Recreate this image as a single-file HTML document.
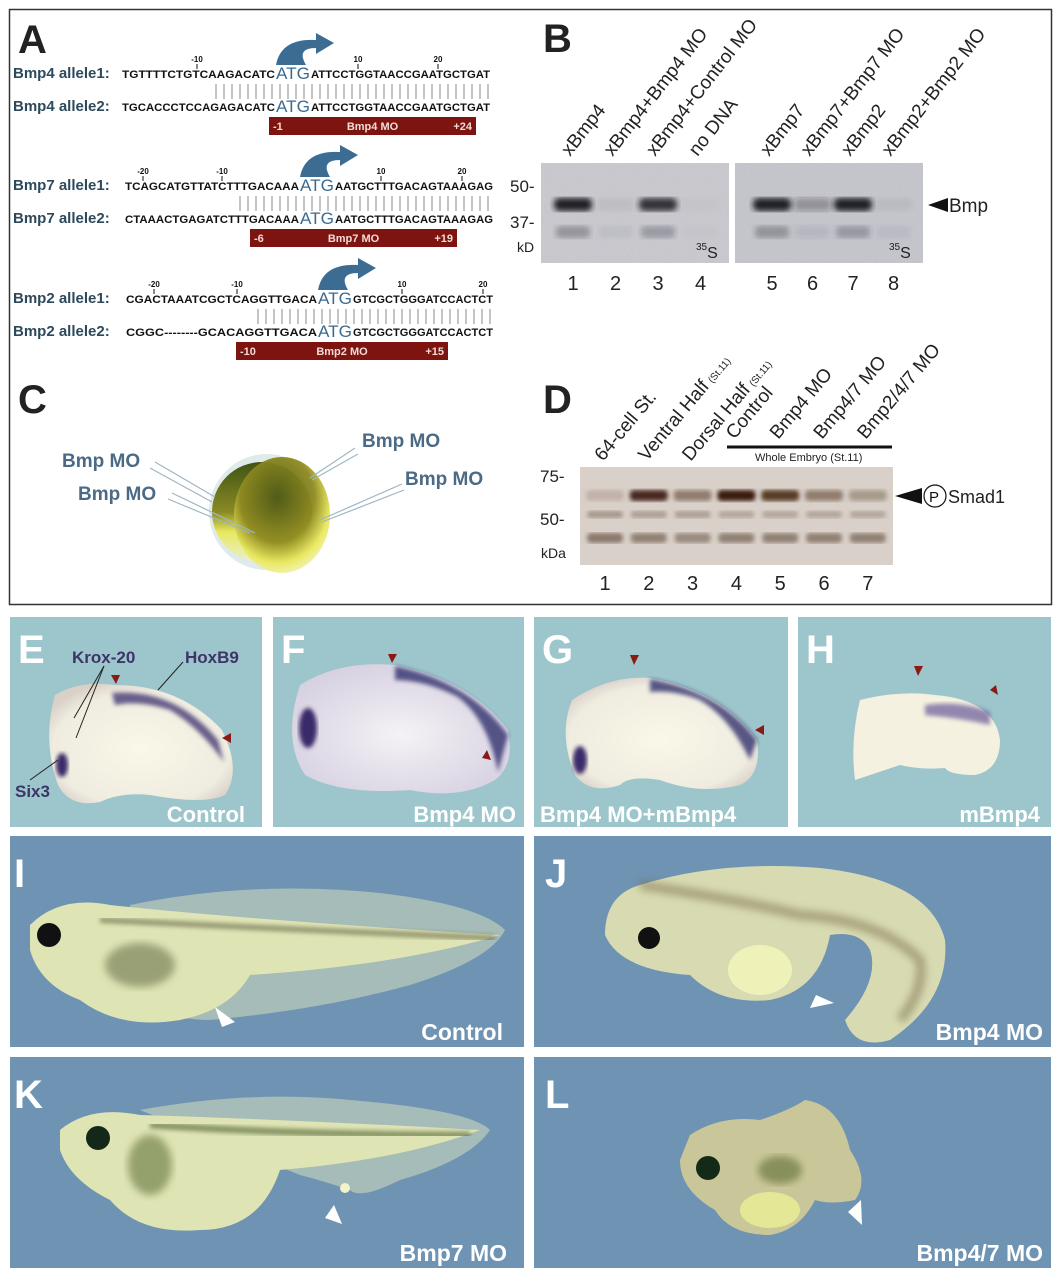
<!DOCTYPE html>
<html><head><meta charset="utf-8"><style>
html,body{margin:0;padding:0;background:#fff;width:1061px;height:1280px;overflow:hidden}
svg{display:block}
text{font-family:"Liberation Sans",sans-serif}
</style></head><body>
<svg id="fig" width="1061" height="1280" viewBox="0 0 1061 1280">
<defs>
<filter id="blur2"><feGaussianBlur stdDeviation="2"/></filter>
<filter id="blur3"><feGaussianBlur stdDeviation="3"/></filter>
<filter id="blur4"><feGaussianBlur stdDeviation="4"/></filter>
<filter id="grain" x="0" y="0" width="1" height="1" filterUnits="objectBoundingBox"><feTurbulence type="fractalNoise" baseFrequency="0.9" numOctaves="2" seed="3"/><feColorMatrix type="matrix" values="0 0 0 0 0.3  0 0 0 0 0.3  0 0 0 0 0.35  0 0 0 0.5 0"/></filter>
<radialGradient id="egg" cx="0.45" cy="0.35" r="0.7"><stop offset="0" stop-color="#4e5a18"/><stop offset="0.55" stop-color="#8f8a20"/><stop offset="0.8" stop-color="#e9e85a"/><stop offset="1" stop-color="#f4f4c8"/></radialGradient>
<linearGradient id="egg2" x1="0" y1="0" x2="0" y2="1"><stop offset="0" stop-color="#3f5414"/><stop offset="0.5" stop-color="#8a8a24"/><stop offset="0.7" stop-color="#e8e860"/><stop offset="1" stop-color="#e9efcf"/></linearGradient>
<radialGradient id="embE" cx="0.5" cy="0.55" r="0.6"><stop offset="0" stop-color="#faf8e8"/><stop offset="0.8" stop-color="#efece0"/><stop offset="1" stop-color="#d9d0c8"/></radialGradient>
<radialGradient id="embF" cx="0.5" cy="0.55" r="0.6"><stop offset="0" stop-color="#f4f2f6"/><stop offset="1" stop-color="#d6d0e0"/></radialGradient>
</defs>

<rect x="9.5" y="9.5" width="1042" height="595" fill="#fff" stroke="#333" stroke-width="1.5"/>

<g>
<text x="18" y="53" font-size="40" font-weight="bold" fill="#222">A</text>
<g id="seqA"></g>
</g>

<g>
<text x="543" y="52" font-size="40" font-weight="bold" fill="#222">B</text>
<rect x="541" y="163" width="188" height="100" fill="#cfcfd4"/>
<rect x="735" y="163" width="188" height="100" fill="#cbcbd2"/>
<rect x="541" y="163" width="188" height="100" filter="url(#grain)" opacity="0.5"/>
<rect x="735" y="163" width="188" height="100" filter="url(#grain)" opacity="0.5"/>
<g id="bBands"></g>
<g id="bLabels"></g>
<text x="510" y="192" font-size="17" fill="#222">50-</text>
<text x="510" y="228" font-size="17" fill="#222">37-</text>
<text x="517" y="252" font-size="14" fill="#222">kD</text>
<text x="696" y="258" font-size="16" fill="#222"><tspan font-size="10" dy="-8">35</tspan><tspan dy="8">S</tspan></text>
<text x="889" y="258" font-size="16" fill="#222"><tspan font-size="10" dy="-8">35</tspan><tspan dy="8">S</tspan></text>
<polygon points="928,205 948,198 948,212" fill="#111"/>
<text x="949" y="212" font-size="19" fill="#222">Bmp</text>
</g>

<g>
<text x="18" y="413" font-size="40" font-weight="bold" fill="#222">C</text>
<circle cx="267" cy="512" r="58" fill="#dfeaea"/>
<circle cx="262" cy="512" r="50" fill="url(#egg2)"/>
<ellipse cx="282" cy="515" rx="48" ry="58" fill="url(#egg)" opacity="0.95"/>
<g stroke="#9fb6c4" stroke-width="1.2" fill="none">
<line x1="155" y1="462" x2="215" y2="497"/><line x1="150" y1="468" x2="212" y2="502"/>
<line x1="172" y1="493" x2="255" y2="533"/><line x1="168" y1="499" x2="250" y2="533"/>
<line x1="355" y1="448" x2="310" y2="478"/><line x1="358" y1="454" x2="312" y2="480"/>
<line x1="402" y1="484" x2="320" y2="520"/><line x1="404" y1="490" x2="322" y2="522"/>
</g>
<text x="62" y="467" font-size="19" font-weight="bold" fill="#4b6a86">Bmp MO</text>
<text x="78" y="500" font-size="19" font-weight="bold" fill="#4b6a86">Bmp MO</text>
<text x="362" y="447" font-size="19" font-weight="bold" fill="#4b6a86">Bmp MO</text>
<text x="405" y="485" font-size="19" font-weight="bold" fill="#4b6a86">Bmp MO</text>
</g>

<g>
<text x="543" y="413" font-size="40" font-weight="bold" fill="#222">D</text>
<rect x="580" y="467" width="313" height="98" fill="#d9d1c9"/>
<g id="dBands"></g>
<g id="dLabels"></g>
<line x1="727" y1="447" x2="892" y2="447" stroke="#111" stroke-width="3"/>
<text x="755" y="461" font-size="11" fill="#222">Whole Embryo (St.11)</text>
<text x="540" y="482" font-size="17" fill="#222">75-</text>
<text x="540" y="525" font-size="17" fill="#222">50-</text>
<text x="541" y="558" font-size="14" fill="#222">kDa</text>
<polygon points="895,496 922,488 922,504" fill="#111"/>
<circle cx="935" cy="496" r="11" fill="none" stroke="#111" stroke-width="1.2"/>
<text x="929" y="502" font-size="15" fill="#111">P</text>
<text x="948" y="503" font-size="18" fill="#222">Smad1</text>
</g>

<g>
<rect x="10" y="617" width="252" height="210" fill="#9cc6cc"/>
<path d="M55,695 Q80,680 115,685 Q180,685 222,730 Q242,770 225,795 Q205,805 150,795 Q120,792 100,802 Q70,808 58,785 Q42,740 55,695Z" fill="url(#embE)"/>
<path d="M112,693 Q175,688 218,740 L224,762 Q200,728 170,710 Q140,700 115,705Z" fill="#3a2f6e" opacity="0.75" filter="url(#blur2)"/>
<ellipse cx="62" cy="765" rx="6" ry="12" fill="#3a2a6a" filter="url(#blur2)"/>
<text x="18" y="663" font-size="40" font-weight="bold" fill="#fff">E</text>
<text x="72" y="663" font-size="17" font-weight="bold" fill="#3d3468">Krox-20</text>
<text x="185" y="663" font-size="17" font-weight="bold" fill="#3d3468">HoxB9</text>
<text x="15" y="797" font-size="17" font-weight="bold" fill="#3d3468">Six3</text>
<g stroke="#222" stroke-width="1"><line x1="104" y1="666" x2="74" y2="718"/><line x1="104" y1="666" x2="76" y2="738"/><line x1="183" y1="662" x2="158" y2="690"/><line x1="30" y1="780" x2="58" y2="760"/></g>
<text x="245" y="822" font-size="22" font-weight="bold" fill="#fff" text-anchor="end">Control</text>
</g>
<g>
<rect x="273" y="617" width="251" height="210" fill="#9cc6cc"/>
<path d="M300,685 Q340,660 395,665 Q470,680 508,730 Q515,765 495,780 Q460,800 410,790 Q340,795 305,775 Q282,740 300,685Z" fill="url(#embF)"/>
<path d="M395,666 Q470,682 508,735 L498,772 Q488,720 458,697 Q425,680 395,680Z" fill="#33306e" opacity="0.8" filter="url(#blur2)"/>
<ellipse cx="308" cy="728" rx="9" ry="20" fill="#3a2a6a" filter="url(#blur2)"/>
<text x="281" y="663" font-size="40" font-weight="bold" fill="#fff">F</text>
<text x="516" y="822" font-size="22" font-weight="bold" fill="#fff" text-anchor="end">Bmp4 MO</text>
</g>
<g>
<rect x="534" y="617" width="254" height="210" fill="#9cc6cc"/>
<path d="M572,700 Q610,675 650,678 Q720,690 757,740 Q762,775 740,785 Q700,795 660,780 Q630,775 620,785 Q590,795 575,775 Q558,735 572,700Z" fill="url(#embE)"/>
<path d="M650,679 Q720,691 757,740 L750,760 Q730,718 700,700 Q675,690 650,692Z" fill="#33306e" opacity="0.8" filter="url(#blur2)"/>
<ellipse cx="580" cy="760" rx="7" ry="14" fill="#3a2a6a" filter="url(#blur2)"/>
<text x="542" y="663" font-size="40" font-weight="bold" fill="#fff">G</text>
<text x="540" y="822" font-size="22" font-weight="bold" fill="#fff">Bmp4 MO+mBmp4</text>
</g>
<g>
<rect x="798" y="617" width="253" height="210" fill="#9cc6cc"/>
<path d="M860,700 Q900,690 935,695 Q995,700 1000,740 Q1000,770 975,775 Q950,775 945,768 Q920,770 900,765 Q870,775 855,780 Q850,740 860,700Z" fill="#f4f1e0"/>
<path d="M925,705 Q960,700 990,712 L990,725 Q960,718 925,715Z" fill="#6a5a9a" opacity="0.7" filter="url(#blur2)"/>
<text x="806" y="663" font-size="40" font-weight="bold" fill="#fff">H</text>
<text x="1040" y="822" font-size="22" font-weight="bold" fill="#fff" text-anchor="end">mBmp4</text>
</g>
<g fill="#8b1a14">
<polygon points="111,675 120,675 116,684"/><polygon points="231,733 231,743 222,738"/>
<polygon points="388,654 397,654 392,663"/><polygon points="487,750 491,760 482,758"/>
<polygon points="630,655 639,655 634,665"/><polygon points="764,725 764,735 755,730"/>
<polygon points="914,666 923,666 918,676"/><polygon points="996,685 998,695 990,690"/>
</g>

<g>
<rect x="10" y="836" width="514" height="211" fill="#6f93b3"/>
<path d="M130,905 Q250,880 380,893 Q480,905 505,930 Q490,960 410,985 Q320,1010 210,1020 Q160,1020 140,990Z" fill="#a6bcb8"/>
<path d="M30,925 Q60,895 110,905 Q250,920 500,935 Q400,965 250,975 Q230,1010 180,1020 Q120,1030 80,1000 Q40,985 30,950Z" fill="#dfe4b5"/>
<path d="M100,920 Q300,930 495,938" stroke="#6a6a48" stroke-width="6" fill="none" opacity="0.6" filter="url(#blur2)"/>
<ellipse cx="140" cy="965" rx="35" ry="22" fill="#7d845a" opacity="0.7" filter="url(#blur4)"/>
<circle cx="49" cy="935" r="12" fill="#111"/>
<polygon points="215,1007 222,1027 235,1022" fill="#fff"/>
<text x="14" y="887" font-size="40" font-weight="bold" fill="#fff">I</text>
<text x="503" y="1040" font-size="23" font-weight="bold" fill="#fff" text-anchor="end">Control</text>
</g>
<g>
<rect x="534" y="836" width="517" height="211" fill="#6f93b3"/>
<path d="M640,885 Q720,860 820,868 Q930,880 945,940 Q950,1000 890,1040 Q855,1050 845,1020 Q880,980 870,950 Q860,930 830,935 Q820,990 770,1000 Q720,1005 690,975 Q620,970 605,935 Q605,895 640,885Z" fill="#d8dbb2"/>
<path d="M640,885 Q740,900 800,915 Q880,920 920,960 Q925,990 900,1020" stroke="#7a6d4a" stroke-width="10" fill="none" opacity="0.5" filter="url(#blur4)"/>
<ellipse cx="760" cy="970" rx="32" ry="25" fill="#eef2b8"/>
<circle cx="649" cy="938" r="11" fill="#111"/>
<polygon points="816,995 810,1008 834,1003" fill="#fff"/>
<text x="545" y="887" font-size="40" font-weight="bold" fill="#fff">J</text>
<text x="1043" y="1040" font-size="23" font-weight="bold" fill="#fff" text-anchor="end">Bmp4 MO</text>
</g>
<g>
<rect x="10" y="1057" width="514" height="211" fill="#6f93b3"/>
<path d="M140,1110 Q250,1090 350,1100 Q470,1110 490,1130 Q470,1160 400,1180 Q360,1200 350,1190 Q320,1180 300,1175Z" fill="#a6bcb8"/>
<path d="M60,1130 Q90,1105 140,1115 Q300,1120 480,1130 Q400,1160 280,1170 Q260,1230 200,1230 Q140,1235 110,1200 Q70,1180 60,1150Z" fill="#dfe4b5"/>
<path d="M150,1125 Q300,1135 470,1135" stroke="#4f6232" stroke-width="7" fill="none" opacity="0.6" filter="url(#blur2)"/>
<ellipse cx="150" cy="1165" rx="22" ry="30" fill="#64743e" opacity="0.6" filter="url(#blur4)"/>
<circle cx="98" cy="1138" r="12" fill="#14281a"/>
<circle cx="345" cy="1188" r="5" fill="#f4f2c8"/>
<polygon points="334,1205 325,1218 342,1224" fill="#fff"/>
<text x="14" y="1108" font-size="40" font-weight="bold" fill="#fff">K</text>
<text x="507" y="1261" font-size="23" font-weight="bold" fill="#fff" text-anchor="end">Bmp7 MO</text>
</g>
<g>
<rect x="534" y="1057" width="517" height="211" fill="#6f93b3"/>
<path d="M690,1135 Q720,1115 760,1120 Q790,1110 805,1100 Q840,1105 850,1150 Q870,1180 855,1200 Q830,1205 815,1200 Q800,1230 770,1235 Q730,1235 715,1210 Q680,1190 680,1160Z" fill="#c9c79a"/>
<ellipse cx="770" cy="1210" rx="30" ry="18" fill="#e4e896"/>
<ellipse cx="780" cy="1170" rx="22" ry="14" fill="#5b6a30" opacity="0.6" filter="url(#blur4)"/>
<circle cx="708" cy="1168" r="12" fill="#142a18"/>
<polygon points="861,1200 848,1212 862,1225" fill="#fff"/>
<text x="545" y="1108" font-size="40" font-weight="bold" fill="#fff">L</text>
<text x="1043" y="1261" font-size="23" font-weight="bold" fill="#fff" text-anchor="end">Bmp4/7 MO</text>
</g>
</svg>
<script>
const NS="http://www.w3.org/2000/svg";
// ---- Gel B data ----
const bLanes=["xBmp4","xBmp4+Bmp4 MO","xBmp4+Control MO","no DNA","xBmp7","xBmp7+Bmp7 MO","xBmp2","xBmp2+Bmp2 MO"];
const bLaneNums=["1","2","3","4","5","6","7","8"];
const bMainBand=[0.95,0.05,0.85,0.02,0.95,0.3,0.95,0.05];
const bLowerBand=[0.35,0.05,0.3,0.02,0.35,0.1,0.3,0.05];
// ---- Gel D data ----
const dLanes=["64-cell St.","Ventral Half","Dorsal Half","Control","Bmp4 MO","Bmp4/7 MO","Bmp2/4/7 MO"];
const dLaneNums=["1","2","3","4","5","6","7"];
const dPSmad=[0.15,0.9,0.45,1.0,0.8,0.45,0.3];
const dBand50=[0.4,0.35,0.35,0.3,0.3,0.3,0.3];
const dBand40=[0.55,0.5,0.45,0.5,0.5,0.5,0.5];
function el(tag,attrs,parent){const e=document.createElementNS(NS,tag);for(const k in attrs)e.setAttribute(k,attrs[k]);parent.appendChild(e);return e;}
function bx(i){return i<4?573+i*42.5:772+(i-4)*40.5;}
function dx(i){return 605+i*43.8;}
const bB=document.getElementById('bBands'),bL=document.getElementById('bLabels');
bLanes.forEach((name,i)=>{
  const x=bx(i);
  let r=el('rect',{x:x-19,y:198,width:38,height:13,rx:5,fill:'#141420','fill-opacity':bMainBand[i],filter:'url(#blur3)'},bB);
  
  
  let r2=el('rect',{x:x-17,y:226,width:34,height:12,rx:4,fill:'#303040','fill-opacity':bLowerBand[i],filter:'url(#blur3)'},bB);
  
  
  let t=el('text',{x:x-3,y:157,'font-size':19,fill:'#222',transform:`rotate(-52 ${x-3} 157)`},bL);t.textContent=name;
  
  
  let n=el('text',{x:x,y:290,'font-size':20,fill:'#222','text-anchor':'middle'},bL);n.textContent=bLaneNums[i];
  
  
});
const dB=document.getElementById('dBands'),dL=document.getElementById('dLabels');
dLanes.forEach((name,i)=>{
  const x=dx(i);
  let r=el('rect',{x:x-19,y:490,width:38,height:11,rx:4,fill:'#3a1a08','fill-opacity':dPSmad[i],filter:'url(#blur2)'},dB);
  
  
  let r2=el('rect',{x:x-18,y:511,width:36,height:7,rx:3,fill:'#5a4030','fill-opacity':dBand50[i],filter:'url(#blur2)'},dB);
  
  
  let r3=el('rect',{x:x-18,y:533,width:36,height:10,rx:4,fill:'#4a3020','fill-opacity':dBand40[i],filter:'url(#blur2)'},dB);
  
  
  const ly=i<3?462:440;
  let t=el('text',{x:x-2,y:ly,'font-size':19,fill:'#222',transform:`rotate(-50 ${x-2} ${ly})`},dL);t.textContent=name;
  if(i===1||i===2){let s=el('tspan',{'font-size':10,dx:4},t);s.textContent='(St.11)';}
  
  
  let n=el('text',{x:x,y:590,'font-size':20,fill:'#222','text-anchor':'middle'},dL);n.textContent=dLaneNums[i];
  
  
});
// ---- Panel A sequences ----
const seqRows=[
 {l1:"Bmp4 allele1:",s1a:"TGTTTTCTGTCAAGACATC",s1b:"ATTCCTGGTAACCGAATGCTGAT",l2:"Bmp4 allele2:",s2a:"TGCACCCTCCAGAGACATC",s2b:"ATTCCTGGTAACCGAATGCTGAT",y:78,sx:122,atg:276,mo:["-1","Bmp4 MO","+24"],bar:[269,476],nums:[["-10",197],["10",358],["20",438]]},
 {l1:"Bmp7 allele1:",s1a:"TCAGCATGTTATCTTTGACAAA",s1b:"AATGCTTTGACAGTAAAGAG",l2:"Bmp7 allele2:",s2a:"CTAAACTGAGATCTTTGACAAA",s2b:"AATGCTTTGACAGTAAAGAG",y:190,sx:125,atg:300,mo:["-6","Bmp7 MO","+19"],bar:[250,457],nums:[["-20",143],["-10",222],["10",381],["20",462]]},
 {l1:"Bmp2 allele1:",s1a:"CGACTAAATCGCTCAGGTTGACA",s1b:"GTCGCTGGGATCCACTCT",l2:"Bmp2 allele2:",s2a:"CGGC--------GCACAGGTTGACA",s2b:"GTCGCTGGGATCCACTCT",y:303,sx:126,atg:318,mo:["-10","Bmp2 MO","+15"],bar:[236,448],nums:[["-20",154],["-10",237],["10",402],["20",483]]}
];
const gA=document.getElementById('seqA');
seqRows.forEach((r,k)=>{
  const y=r.y,y2=y+33;
  let t=el('text',{x:13,y:y,'font-size':15,'font-weight':'bold',fill:'#2c4a5c'},gA);t.textContent=r.l1;
  
  t=el('text',{x:13,y:y2,'font-size':15,'font-weight':'bold',fill:'#2c4a5c'},gA);t.textContent=r.l2;
  
  const w1=r.atg-r.sx;
  [[y,r.s1a,r.s1b],[y2,r.s2a,r.s2b]].forEach(([yy,a,b],j)=>{
    let s=el('text',{x:r.sx,y:yy,'font-size':11,'font-weight':'bold',fill:'#111',textLength:w1-1,lengthAdjust:'spacingAndGlyphs'},gA);s.textContent=a;
    
    let at=el('text',{x:r.atg,y:yy+1,'font-size':17,fill:'#3b6a90',textLength:34,lengthAdjust:'spacingAndGlyphs'},gA);at.textContent='ATG';
    
    let s2=el('text',{x:r.atg+35,y:yy,'font-size':11,'font-weight':'bold',fill:'#111',textLength:(k==0?490:493)-r.atg-35,lengthAdjust:'spacingAndGlyphs'},gA);s2.textContent=b;
    
  });
  const p=document.createElementNS(NS,'path');let d='';
  for(let xx=r.atg-60;xx<(k==0?490:493);xx+=8){d+=`M${xx},${y+6}V${y+21}`;}
  p.setAttribute('d',d);p.setAttribute('stroke','#888');p.setAttribute('stroke-width','1');gA.appendChild(p);
  
  r.nums.forEach(([n,xx])=>{let q=el('text',{x:xx,y:y-16,'font-size':8,'font-weight':'bold',fill:'#111','text-anchor':'middle'},gA);q.textContent=n;
    
    el('line',{x1:xx,y1:y-14,x2:xx,y2:y-9,stroke:'#111'},gA);});
  const ax=r.atg;
  let ar=el('path',{d:`M${ax},${y-13} Q${ax+5},${y-40} ${ax+40},${y-38} L${ax+40},${y-45} L${ax+58},${y-35} L${ax+40},${y-24} L${ax+40},${y-30} Q${ax+20},${y-30} ${ax+30},${y-13}Z`,fill:'#3d6c93'},gA);
  
  const by=y2+6;
  let b=el('rect',{x:r.bar[0],y:by,width:r.bar[1]-r.bar[0],height:18,fill:'#7d1410'},gA);
  
  [[r.mo[0],r.bar[0]+4,'start'],[r.mo[1],(r.bar[0]+r.bar[1])/2,'middle'],[r.mo[2],r.bar[1]-4,'end']].forEach(([tx,xx,an])=>{
    let q=el('text',{x:xx,y:by+13,'font-size':11,'font-weight':'bold',fill:'#f2dcd8','text-anchor':an},gA);q.textContent=tx;
    });
});
</script>
</body></html>
